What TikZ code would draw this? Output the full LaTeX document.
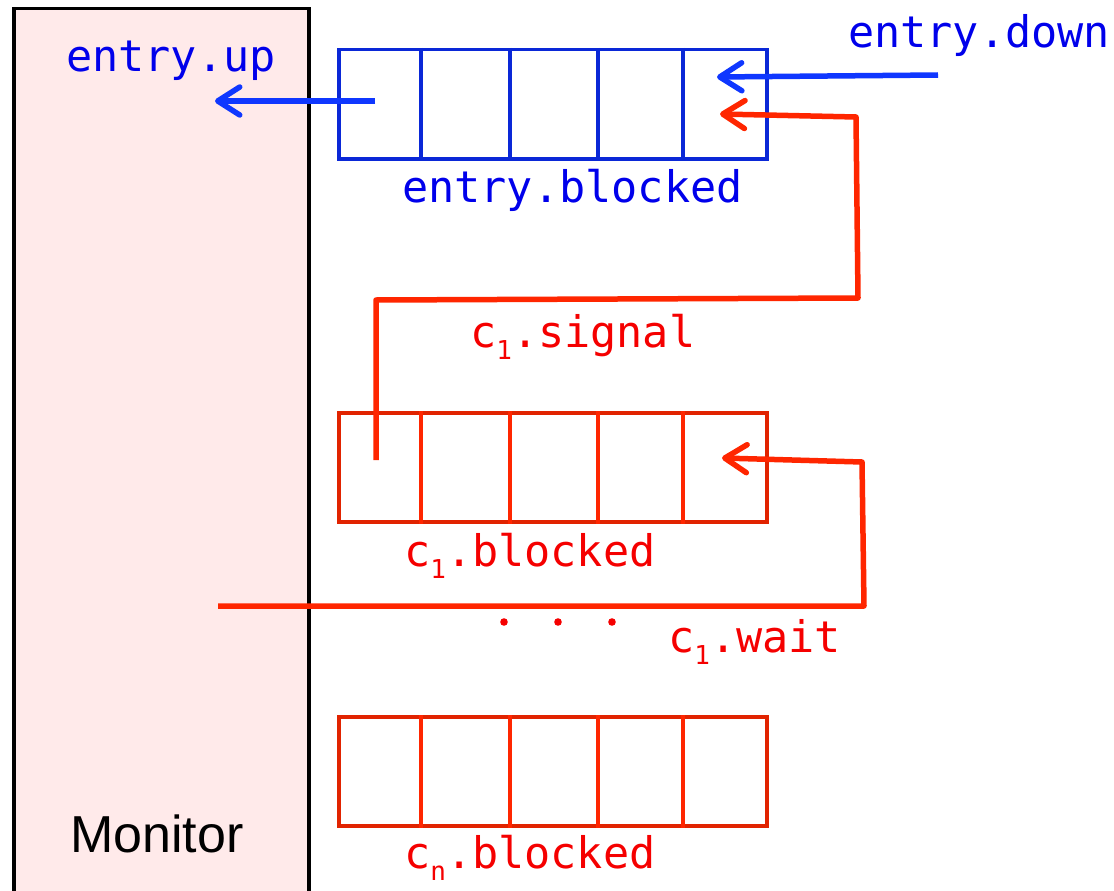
\documentclass[tikz,border=0pt]{standalone}
\usepackage{fontspec}
\setmainfont{Liberation Sans}
\newfontfamily\qmono{DejaVu Sans Mono}
\usetikzlibrary{arrows.meta}
\definecolor{monfill}{RGB}{255,234,234}
\definecolor{qblue}{RGB}{10,40,215}
\definecolor{ablue}{RGB}{15,55,255}
\definecolor{tblue}{RGB}{0,0,235}
\definecolor{qred}{RGB}{225,35,0}
\definecolor{ared}{RGB}{255,38,0}
\definecolor{tred}{RGB}{245,0,0}
\newcommand{\qsub}[1]{\raisebox{-0.28em}{\fontsize{26pt}{26pt}\selectfont #1}}
\tikzset{
  x=1pt, y=-1pt,
  lbl/.style={font=\qmono\fontsize{43.5pt}{43.5pt}\selectfont, anchor=base west, inner sep=0pt},
  queue/.style={draw, line width=3.5pt, minimum width=428pt, minimum height=109pt, inner sep=0pt, anchor=north west},
  tip/.style={-{Straight Barb[length=22pt,width=28pt,line cap=round,line join=round]}},
  conn/.style={line width=5.5pt, line join=round},
}
\begin{document}
\begin{tikzpicture}
\useasboundingbox (0,0) rectangle (1114,891);
% Monitor
\node[draw=black, fill=monfill, line width=3.5pt, minimum width=295pt, minimum height=900pt, anchor=north west, inner sep=0pt] (mon) at (12,7) {};
\node[font=\fontsize{52pt}{52pt}\selectfont, anchor=base, inner sep=0pt] (montxt) at (157,852) {Monitor};
% queues
\node[queue, draw=qblue] (qe) at (337,48) {};
\node[queue, draw=qred] (q1) at (337,411) {};
\node[queue, draw=qred] (qn) at (337,715) {};
\foreach \q/\c in {qe/qblue, q1/ared, qn/ared}{
  \foreach \xx in {84,173,261,346}{
    \draw[\c, line width=3.5pt] ([xshift=\xx pt]\q.north west) -- ([xshift=\xx pt]\q.south west);
  }
}
% labels
\node[lbl, text=tblue] (lup) at (66,72) {entry.up};
\node[lbl, text=tblue] (ldown) at (848,48) {entry.down};
\node[lbl, text=tblue] (lqe) at (402,202) {entry.blocked};
\node[lbl, text=tred] (lsig) at (470,347) {c\qsub{1}.signal};
\node[lbl, text=tred] (lq1) at (404,566) {c\qsub{1}.blocked};
\node[lbl, text=tred] (lwait) at (668,652) {c\qsub{1}.wait};
\node[lbl, text=tred] (lqn) at (404,868) {c\qsub{n}.blocked};
% coordinates
\coordinate (upS) at (375,101);
\coordinate (upE) at (215,101);
\coordinate (dnS) at (938,75);
\coordinate (dnE) at (717,77);
\coordinate (sgS) at (376,460);
\coordinate (sgE) at (720,114);
\coordinate (wtS) at (218,606);
\coordinate (wtE) at (722,458);
% connectors
\draw[conn, ablue, tip] (upS) -- (upE);
\draw[conn, ablue, tip] (dnS) -- (dnE);
\draw[conn, ared, tip] (sgS) -- (376,300) -- (858,298) -- (856,117) -- (sgE);
\draw[conn, ared, tip] (wtS) -- (864,606) -- (862,462) -- (wtE);
% dots
\foreach \dx in {504,558,612}{
  \fill[tred] (\dx,622) circle (3.8pt);
}
\end{tikzpicture}
\end{document}
